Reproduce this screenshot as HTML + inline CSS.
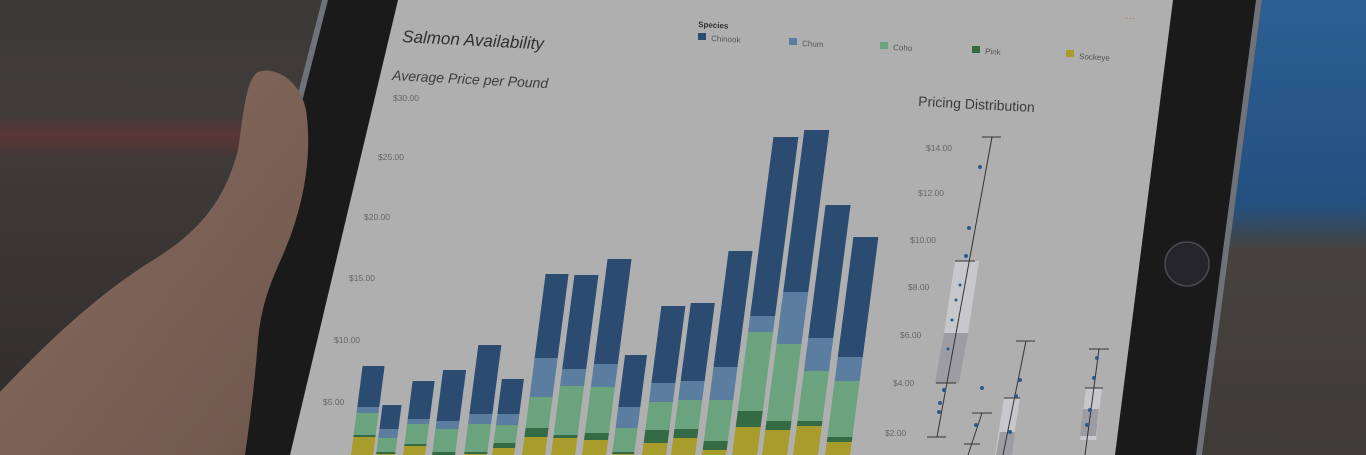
<!DOCTYPE html>
<html><head><meta charset="utf-8"><style>
html,body{margin:0;padding:0;width:1366px;height:455px;overflow:hidden;background:#3a3938}
svg{display:block}
text{font-family:"Liberation Sans",sans-serif}
</style></head><body>
<svg id="s" width="1366" height="455" viewBox="0 0 1366 455" xmlns="http://www.w3.org/2000/svg">
<defs>
<linearGradient id="bg" x1="0" y1="0" x2="0" y2="1">
<stop offset="0" stop-color="#3b3a38"/><stop offset="0.25" stop-color="#403c39"/><stop offset="0.3" stop-color="#5a3535"/><stop offset="0.35" stop-color="#3e3a38"/><stop offset="1" stop-color="#2e2c2b"/></linearGradient>
<linearGradient id="rb" x1="0" y1="0" x2="0" y2="1">
<stop offset="0" stop-color="#2c5f95"/><stop offset="0.45" stop-color="#23507f"/><stop offset="0.55" stop-color="#46433f"/><stop offset="1" stop-color="#3e3b38"/></linearGradient>
<linearGradient id="hand" x1="0" y1="0" x2="1" y2="1">
<stop offset="0" stop-color="#8a6d60"/><stop offset="1" stop-color="#6e564c"/></linearGradient>
</defs>
<rect width="1366" height="455" fill="url(#bg)"/>
<rect x="1180" y="0" width="186" height="455" fill="url(#rb)"/>
<polygon points="322,0 1262,0 1202,455 205,455" fill="#1b1a1a"/>
<polygon points="1256,0 1262,0 1202,455 1196,455" fill="#6f7278"/>
<polygon points="322,0 328,0 212,455 205,455" fill="#6f7278"/>
<polygon points="398,0 1173,0 1115,455 290,455" fill="#afafaf"/>
<circle cx="1187" cy="264" r="22" fill="#26252a" stroke="#4a4a50" stroke-width="1.5"/>
<path d="M0,392 C40,350 90,300 150,262 C200,232 225,200 238,150 C244,110 246,80 258,72 C275,66 300,80 306,110 C312,150 306,200 285,250 C272,280 262,300 258,340 C255,380 250,420 245,455 L0,455 Z" fill="url(#hand)"/>
<g id="chart"></g>
<g fill="#303030">
<text x="402" y="42" font-size="17" font-style="italic" transform="rotate(3 402 42)">Salmon Availability</text>
<text x="392" y="80" font-size="14" font-style="italic" fill="#3c3c3c" transform="rotate(3 392 80)">Average Price per Pound</text>
<text x="918" y="106" font-size="14" fill="#3c3c3c" transform="rotate(3 918 106)">Pricing Distribution</text>
<text x="698" y="27" font-size="8" font-weight="bold" transform="rotate(3 698 27)">Species</text>
</g>
<g font-size="8" fill="#555">
<rect x="698" y="33" width="8" height="7" fill="#2b4c70"/><text x="711" y="41" transform="rotate(3 711 41)">Chinook</text>
<rect x="789" y="38" width="8" height="7" fill="#5b7da0"/><text x="802" y="46" transform="rotate(3 802 46)">Chum</text>
<rect x="880" y="42" width="8" height="7" fill="#6aa37e"/><text x="893" y="50" transform="rotate(3 893 50)">Coho</text>
<rect x="972" y="46" width="8" height="7" fill="#356b44"/><text x="985" y="54" transform="rotate(3 985 54)">Pink</text>
<rect x="1066" y="50" width="8" height="7" fill="#a89c2c"/><text x="1079" y="59" transform="rotate(3 1079 59)">Sockeye</text>
<text x="1125" y="21" fill="#b36a50" font-size="10">···</text>
</g>
<g font-size="8.5" fill="#666">
<text x="393" y="101">$30.00</text><text x="378" y="160">$25.00</text><text x="364" y="220">$20.00</text>
<text x="349" y="281">$15.00</text><text x="334" y="343">$10.00</text><text x="323" y="405">$5.00</text>
<text x="926" y="151">$14.00</text><text x="918" y="196">$12.00</text><text x="910" y="243">$10.00</text>
<text x="908" y="290">$8.00</text><text x="900" y="338">$6.00</text><text x="893" y="386">$4.00</text><text x="885" y="436">$2.00</text>
</g>
<g stroke="#333" stroke-width="1">
<polygon points="955,261 979,261 968,333 944,333" fill="#c8c8cc" stroke="none"/>
<polygon points="944,333 968,333 959,383 935,383" fill="#9c9ca2" stroke="none"/>
<line x1="992" y1="137" x2="937" y2="437"/><line x1="982" y1="137" x2="1001" y2="137"/><line x1="927" y1="437" x2="946" y2="437"/>
<line x1="955" y1="261" x2="975" y2="261"/><line x1="936" y1="383" x2="956" y2="383"/>
<polygon points="1004,398 1020,398 1011,455 995,455" fill="#c8c8cc" stroke="none"/>
<polygon points="1000,432 1015,432 1012,455 996,455" fill="#9c9ca2" stroke="none"/>
<line x1="982" y1="413" x2="968" y2="455"/><line x1="972" y1="413" x2="992" y2="413"/><line x1="964" y1="444" x2="980" y2="444"/>
<line x1="1026" y1="341" x2="1003" y2="455"/><line x1="1016" y1="341" x2="1035" y2="341"/><line x1="1004" y1="398" x2="1020" y2="398"/>
<polygon points="1086,388 1102,388 1096,440 1080,440" fill="#c8c8cc" stroke="none"/>
<polygon points="1083,409 1099,409 1096,436 1080,436" fill="#9c9ca2" stroke="none"/>
<line x1="1099" y1="349" x2="1085" y2="455"/><line x1="1089" y1="349" x2="1109" y2="349"/><line x1="1085" y1="388" x2="1103" y2="388"/>
</g>
<g fill="#2b5a8a">
<circle cx="980" cy="167" r="2"/><circle cx="969" cy="228" r="2"/><circle cx="966" cy="256" r="2"/><circle cx="960" cy="285" r="1.5"/><circle cx="956" cy="300" r="1.5"/><circle cx="952" cy="320" r="1.5"/><circle cx="948" cy="349" r="1.5"/><circle cx="944" cy="390" r="2"/><circle cx="940" cy="403" r="2"/><circle cx="939" cy="412" r="2"/><circle cx="982" cy="388" r="2"/><circle cx="976" cy="425" r="2"/><circle cx="1020" cy="380" r="2"/><circle cx="1016" cy="396" r="2"/><circle cx="1010" cy="432" r="2"/><circle cx="1097" cy="358" r="2"/><circle cx="1094" cy="378" r="2"/><circle cx="1090" cy="410" r="2"/><circle cx="1087" cy="425" r="2"/>
</g>
</svg>
<script>
var bars=[[353,22,366,407,413,435,437],[378,19,405,429,438,452,454],[405,22,381,419,424,444,446],[434,23,370,421,429,452,455],[466,23,345,414,424,452,454],[494,22,379,414,425,443,448],[524,23,274,358,397,428,437],[553,24,275,369,386,435,438],[584,24,259,364,387,433,440],[614,22,355,407,428,452,454],[644,24,306,383,402,430,443],[673,24,303,381,400,429,438],[704,24,251,367,400,441,450],[734,25,137,316,332,411,427],[764,25,130,292,344,421,430],[795,25,205,338,371,421,426],[827,25,237,357,381,437,442]];
var cols=["#2b4c70","#5b7da0","#6aa37e","#356b44","#a89c2c"];
var k=0.13,h="";
bars.forEach(function(b){
 var L=b[0],w=b[1];
 var ys=[b[2],b[3],b[4],b[5],b[6],470];
 for(var i=0;i<5;i++){
  var y1=ys[i],y2=ys[i+1];
  var a=L+k*(440-y1),c=L+k*(440-y2);
  h+='<polygon points="'+a+','+y1+' '+(a+w)+','+y1+' '+(c+w)+','+y2+' '+c+','+y2+'" fill="'+cols[i]+'"/>';
 }
});
document.getElementById("chart").innerHTML=h;
</script>
</body></html>
